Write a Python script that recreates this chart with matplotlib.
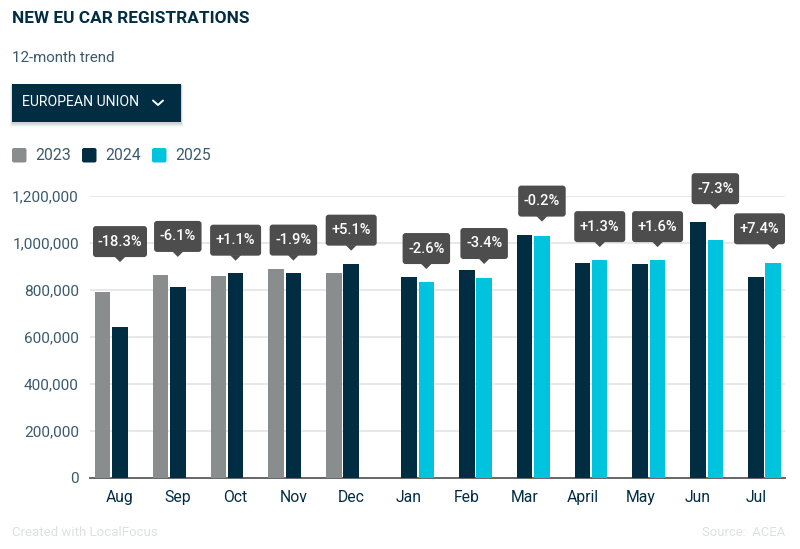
import numpy as np
import matplotlib
matplotlib.use("Agg")
import matplotlib.pyplot as plt
from matplotlib.patches import FancyBboxPatch, Polygon, Rectangle

plt.rcParams['font.family'] = ['Roboto', 'DejaVu Sans']

months = ["Aug", "Sep", "Oct", "Nov", "Dec", "Jan", "Feb", "Mar", "April", "May", "Jun", "Jul"]
nan = np.nan
v2023 = [789000, 862000, 856000, 889000, 869000, nan, nan, nan, nan, nan, nan, nan]
v2024 = [640000, 809000, 869000, 869000, 910000, 853000, 883000, 1031000, 914000, 910000, 1089000, 852000]
v2025 = [nan, nan, nan, nan, nan, 830000, 851000, 1029000, 925000, 925000, 1009000, 914000]
changes = ["-18.3%", "-6.1%", "+1.1%", "-1.9%", "+5.1%", "-2.6%", "-3.4%", "-0.2%", "+1.3%", "+1.6%", "-7.3%", "+7.4%"]
series_labels = ["2023", "2024", "2025"]
yticks = [0, 200000, 400000, 600000, 800000, 1000000, 1200000]

NAVY, CYAN, GRAY = "#012d43", "#00c4de", "#8a8d8e"
BOX = "#4d4d4d"
TXT = "#3b5a6d"
W, H = 800, 549

fig = plt.figure(figsize=(8, 5.49), dpi=100, facecolor="white")
L, R, T, B = 90, 785, 195.5, 477.5
ax = fig.add_axes([L / W, 1 - B / H, (R - L) / W, (B - T) / H])
x = np.arange(len(months))
off, bw = 0.3, 0.268
for vals, dx, c in [(v2023, -off, GRAY), (v2024, 0, NAVY), (v2025, off, CYAN)]:
    ax.bar(x + dx, vals, bw, color=c, zorder=3)
ax.set_xlim(-0.519, 11.505)
ax.set_ylim(0, 1200000)
ax.set_yticks(yticks)
ax.set_yticklabels([f"{t:,}" for t in yticks], fontsize=11.1, color=TXT)
ax.set_xticks(x)
ax.set_xticklabels(months, fontsize=11.3, color=NAVY)
ax.tick_params(axis="both", length=0)
ax.tick_params(axis="x", pad=9)
ax.tick_params(axis="y", pad=8)
ax.grid(axis="y", color="#e4e4e4", lw=1.2, zorder=0)
ax.set_axisbelow(True)
for s in ["top", "left", "right"]:
    ax.spines[s].set_visible(False)
ax.spines["bottom"].set_color("#666666")
ax.spines["bottom"].set_linewidth(1.4)

# pixel overlay for page furniture and callouts
ov = fig.add_axes([0, 0, 1, 1], zorder=5)
ov.set_xlim(0, W)
ov.set_ylim(H, 0)
ov.axis("off")
ov.patch.set_alpha(0)

ov.text(12, 18.5, "NEW EU CAR REGISTRATIONS", fontsize=12.4, fontweight="bold", color=NAVY, va="center")
ov.text(12, 57.5, "12-month trend", fontsize=10.9, color=TXT, va="center")

for i, a in enumerate([0.03, 0.04, 0.05, 0.06]):
    d = 4 - i
    ov.add_patch(Rectangle((12 - d / 2, 84 + 1), 169 + d, 38 + d, color="black", alpha=a, lw=0))
ov.add_patch(Rectangle((12, 84), 168.5, 38, color=NAVY, lw=0))
ov.text(22, 102.5, "EUROPEAN UNION", fontsize=10.1, color="white", va="center")
ov.plot([153, 158, 163], [100.5, 105, 100.5], color="white", lw=1.4, solid_capstyle="round")

for lx, tx, c, lab in [(12, 35, GRAY, series_labels[0]), (82, 105, NAVY, series_labels[1]), (152, 175, CYAN, series_labels[2])]:
    ov.add_patch(FancyBboxPatch((lx + 1, 149), 12.5, 12.5, boxstyle="round,pad=1,rounding_size=2", color=c, lw=0))
    ov.text(tx, 155, lab, fontsize=11.3, color=TXT, va="center")

# callout tip height above the group's tallest bar, and width of each box, in pixels
lifts = [30, 18, 12.6, 8, 13, 8, 6, 13.6, 13, 13, 12.4, 13.4]
widths = [54, 47.5, 51, 47.5, 51, 47.5, 47.5, 47.5, 51, 51, 47.5, 51]
for i, lab in enumerate(changes):
    top = np.nanmax([v2023[i], v2024[i], v2025[i]])
    # the callout points at the newest bar of the group
    bar_x = i + off if not np.isnan(v2025[i]) else i
    px, _ = ax.transData.transform((bar_x, top))
    _, py = ax.transData.transform((i, top))
    py = H - py - lifts[i]
    w = widths[i]
    cx = min(px, R - w / 2)
    ov.add_patch(Polygon([[px - 5.5, py - 5.5], [px + 5.5, py - 5.5], [px, py]], color=BOX, lw=0))
    ov.add_patch(FancyBboxPatch((cx - w / 2 + 2, py - 34), w - 4, 27, boxstyle="round,pad=2,rounding_size=3", color=BOX, lw=0))
    ov.text(cx, py - 20.5, lab, fontsize=10.5, fontweight="medium", color="white", ha="center", va="center")

ov.text(12, 532, "Created with LocalFocus", fontsize=9.5, color="#dde0e2", va="center")
ov.text(785, 532, "Source:  ACEA", fontsize=9.4, color="#dde0e2", va="center", ha="right")

fig.savefig("out.png", dpi=100)
